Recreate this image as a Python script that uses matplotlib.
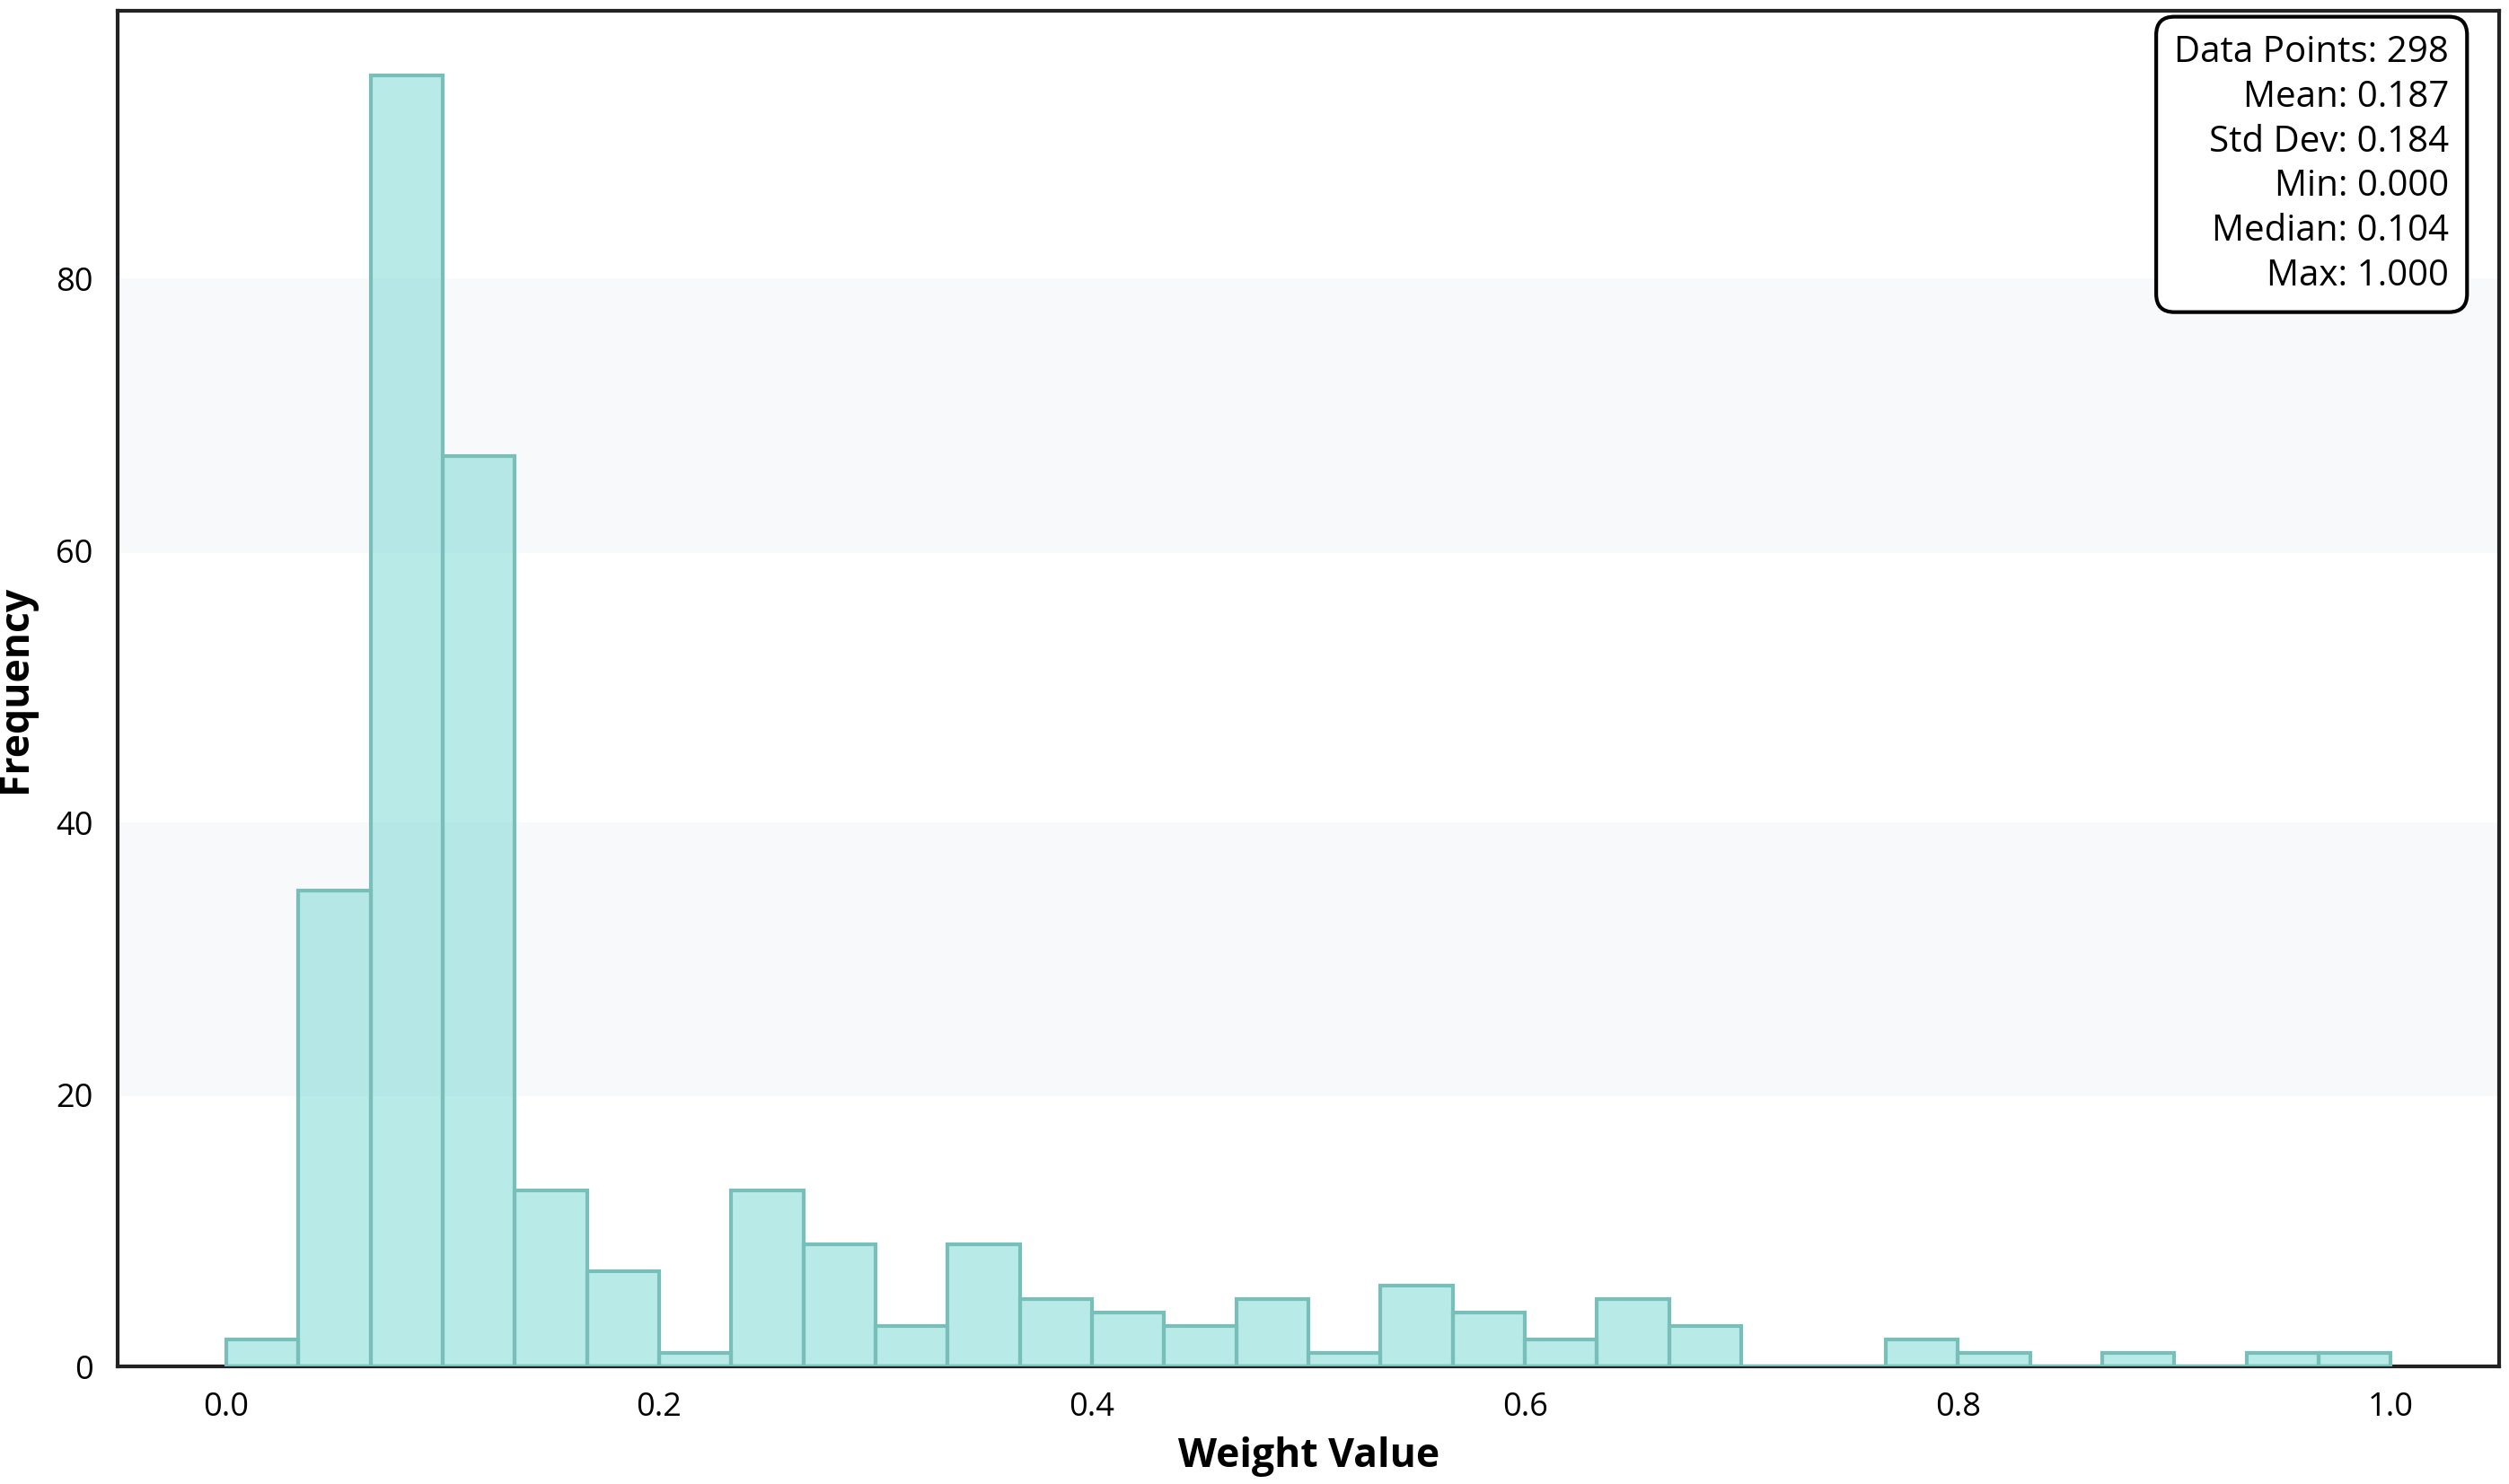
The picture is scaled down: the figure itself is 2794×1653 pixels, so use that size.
import numpy as np
import matplotlib
matplotlib.use("Agg")
import matplotlib.pyplot as plt

# contagens do histograma (30 bins de 0 a 1)
bin_edges = np.linspace(0.0, 1.0, 31)
counts = [2, 35, 95, 67, 13, 7, 1, 13, 9, 3,
          9, 5, 4, 3, 5, 1, 6, 4, 2, 5,
          3, 0, 0, 2, 1, 0, 1, 0, 1, 1]

stats_labels = ["Data Points", "Mean", "Std Dev", "Min", "Median", "Max"]
stats_values = ["298", "0.187", "0.184", "0.000", "0.104", "1.000"]

plt.rcParams['font.family'] = ['Open Sans', 'DejaVu Sans']

fig, ax = plt.subplots(figsize=(13.97, 8.265), dpi=200)
fig.subplots_adjust(left=0.047, right=0.996, top=0.993, bottom=0.079)

centers = (bin_edges[:-1] + bin_edges[1:]) / 2
ax.hist(centers, bins=bin_edges, weights=counts,
        color=(0.306, 0.804, 0.769, 0.4), edgecolor='#78bfba', linewidth=1.5, zorder=3)

# faixas alternadas no fundo
ax.axhspan(20, 40, color='#f8f9fb', zorder=0)
ax.axhspan(60, 80, color='#f8f9fb', zorder=0)

ax.set_xlim(-0.05, 1.05)
ax.set_ylim(0, 99.75)
ax.set_xticks([0.0, 0.2, 0.4, 0.6, 0.8, 1.0])
ax.set_yticks([0, 20, 40, 60, 80])
ax.tick_params(length=0, labelsize=13, pad=10)

ax.set_xlabel("Weight Value", fontsize=16, fontweight='bold', labelpad=5)
ax.set_ylabel("Frequency", fontsize=16, fontweight='bold', labelpad=8)

for s in ax.spines.values():
    s.set_linewidth(1.5)
    s.set_color('#222222')

texto = "\n".join(f"{l}: {v}" for l, v in zip(stats_labels, stats_values))
ax.text(0.979, 0.982, texto, transform=ax.transAxes, ha='right', va='top',
        fontsize=14.5, linespacing=1.3, multialignment='right', zorder=5,
        bbox=dict(boxstyle='round,pad=0.5', facecolor='white', edgecolor='black', linewidth=1.5))

plt.savefig("out.png")
